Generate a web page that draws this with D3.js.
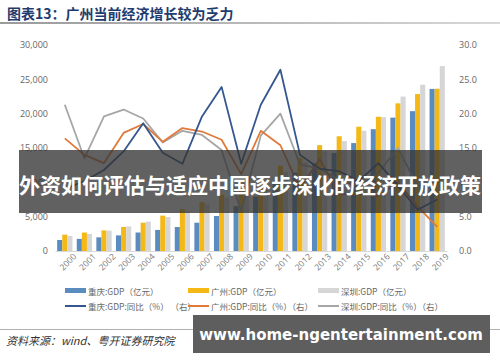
<!DOCTYPE html>
<html><head><meta charset="utf-8">
<script src="https://cdn.jsdelivr.net/npm/d3@7"></script>
<style>
html,body{margin:0;padding:0;background:#fff;}
svg{display:block;}
</style></head>
<body>
<svg id="chart" width="500" height="362"></svg>
<script>
const years = ["2000","2001","2002","2003","2004","2005","2006","2007","2008","2009","2010","2011","2012","2013","2014","2015","2016","2017","2018","2019"];
const cqGDP = [1603,1766,1991,2273,2693,3070,3492,4123,5097,6530,7926,10011,11410,12783,14263,15717,17741,19425,20363,23606];
const gzGDP = [2383,2686,3001,3497,4116,5154,6081,7109,8216,9138,10748,12423,13551,15420,16707,18100,19547,21503,22859,23629];
const szGDP = [2187,2482,2970,3586,4282,4951,5814,6802,7787,8201,9582,11506,12950,14500,16002,17503,19493,22490,24222,26927];
const cqYoY = [9.0,10.2,11.8,14.5,18.6,14.3,12.7,19.6,23.9,12.7,21.3,26.4,14.0,12.0,11.6,10.2,12.8,9.5,6.0,7.5];
const gzYoY = [16.4,14.0,12.8,17.2,18.5,15.9,17.9,17.4,16.2,11.2,17.5,15.4,9.1,13.4,8.3,8.3,8.0,10.0,6.5,3.5];
const szYoY = [21.3,13.5,19.6,20.6,19.3,15.8,17.5,16.9,14.7,5.8,16.8,20.0,12.6,12.0,10.4,9.4,11.4,15.0,9.4,10.0];
const leftTicks = [0,5000,10000,15000,20000,25000,30000];
const rightTicks = [0,5,10,15,20,25,30];
const title = "图表13：广州当前经济增长较为乏力";
const source = "资料来源：wind、粤开证券研究院";
const banner = "外资如何评估与适应中国逐步深化的经济开放政策";
const watermark = "www.home-ngentertainment.com";
const barNames = ["重庆:GDP（亿元）","广州:GDP（亿元）","深圳:GDP（亿元）"];
const lineNames = ["重庆:GDP:同比（%） （右）","广州:GDP:同比（%）（右）","深圳:GDP:同比（%）（右）"];

const barColors = ["#5b8cc0","#f4b916","#d6d6d6"];
const lineColors = ["#35578f","#e07a3a","#a6a6a6"];

const svg = d3.select("#chart");
const cjk = "'Noto Sans CJK SC','Noto Sans',sans-serif";
const latin = "'Open Sans','Liberation Sans',sans-serif";

const x = d3.scaleBand().domain(years).range([55,447]).paddingInner(0.22).paddingOuter(0.11);
const x1 = d3.scaleBand().domain([0,1,2]).range([0,x.bandwidth()]);
const yL = d3.scaleLinear().domain([0,30000]).range([251,45]);
const yR = d3.scaleLinear().domain([0,30]).range([251,45]);

// title
svg.append("text").attr("x",7).attr("y",19).attr("font-family",cjk).attr("font-weight","bold")
  .attr("font-size",14).attr("fill","#1f3c6e").text(title);
const grad = svg.append("defs").append("linearGradient").attr("id","tg");
grad.append("stop").attr("offset","0%").attr("stop-color","#9a9a9a");
grad.append("stop").attr("offset","100%").attr("stop-color","#d8d8d8");
svg.append("rect").attr("x",0).attr("y",22).attr("width",500).attr("height",2).attr("fill","url(#tg)");

// axes
const axL = svg.append("g").attr("transform","translate(52,0)")
  .call(d3.axisLeft(yL).tickValues(leftTicks).tickFormat(d3.format(",")).tickSize(0).tickPadding(4));
const axR = svg.append("g").attr("transform","translate(455,0)")
  .call(d3.axisRight(yR).tickValues(rightTicks).tickFormat(d3.format(".1f")).tickSize(0).tickPadding(4));
[axL,axR].forEach(a=>{a.select(".domain").remove();
  a.selectAll("text").attr("font-family",latin).attr("font-size",9).attr("fill","#666");});

const axB = svg.append("g").attr("transform","translate(0,251)").call(d3.axisBottom(x).tickSize(0).tickPadding(7));
axB.select(".domain").attr("stroke","#d9d9d9");
axB.selectAll("text").attr("font-family",latin).attr("font-size",8.5).attr("fill","#777")
  .attr("text-anchor","end").attr("dx","0.5em").attr("dy","0.7em").attr("transform","rotate(-45)");

// bars
const series = [cqGDP,gzGDP,szGDP];
series.forEach((s,i)=>{
  svg.append("g").selectAll("rect").data(s).join("rect")
    .attr("x",(d,j)=>x(years[j])+x1(i)).attr("width",x1.bandwidth())
    .attr("y",d=>yL(d)).attr("height",d=>yL(0)-yL(d)).attr("fill",barColors[i]);
});

// lines
const lines = [cqYoY,gzYoY,szYoY];
const lg = d3.line().x((d,j)=>x(years[j])+x.bandwidth()/2).y(d=>yR(d));
[2,1,0].forEach(i=>{
  svg.append("path").datum(lines[i]).attr("d",lg).attr("fill","none")
    .attr("stroke",lineColors[i]).attr("stroke-width",1.8).attr("stroke-linejoin","round");
});

// legend
const lx = [65,188,318];
barNames.forEach((n,i)=>{
  svg.append("rect").attr("x",lx[i]).attr("y",288).attr("width",21).attr("height",5).attr("fill",barColors[i]);
  svg.append("text").attr("x",lx[i]+23).attr("y",294.5).attr("font-family",cjk).attr("font-size",8.5)
    .attr("fill","#666").text(n);
});
lineNames.forEach((n,i)=>{
  svg.append("line").attr("x1",lx[i]).attr("x2",lx[i]+21).attr("y1",306).attr("y2",306)
    .attr("stroke",lineColors[i]).attr("stroke-width",2);
  svg.append("text").attr("x",lx[i]+23).attr("y",309.5).attr("font-family",cjk).attr("font-size",8.5)
    .attr("fill","#666").attr("xml:space","preserve").style("white-space","pre").text(n);
});

// source
svg.append("rect").attr("x",0).attr("y",329).attr("width",500).attr("height",1).attr("fill","#b0b0b0");
svg.append("text").attr("x",6).attr("y",345).attr("font-family",cjk).attr("font-size",11)
  .attr("font-style","italic").attr("fill","#333").text(source);

// watermark box
svg.append("rect").attr("x",193).attr("y",315).attr("width",297).attr("height",38).attr("fill","#5e5e5e");
svg.append("text").attr("x",341).attr("y",340).attr("text-anchor","middle").attr("font-family","'DejaVu Sans',sans-serif")
  .attr("font-weight","bold").attr("font-size",15).attr("fill","#fff").text(watermark);

// banner overlay
svg.append("rect").attr("x",19).attr("y",150).attr("width",463).attr("height",63).attr("fill","rgba(52,52,52,0.78)");
svg.append("text").attr("x",250).attr("y",193).attr("text-anchor","middle").attr("font-family",cjk)
  .attr("font-weight","bold").attr("font-size",21).attr("fill","#fff").text(banner);
</script>
</body></html>
